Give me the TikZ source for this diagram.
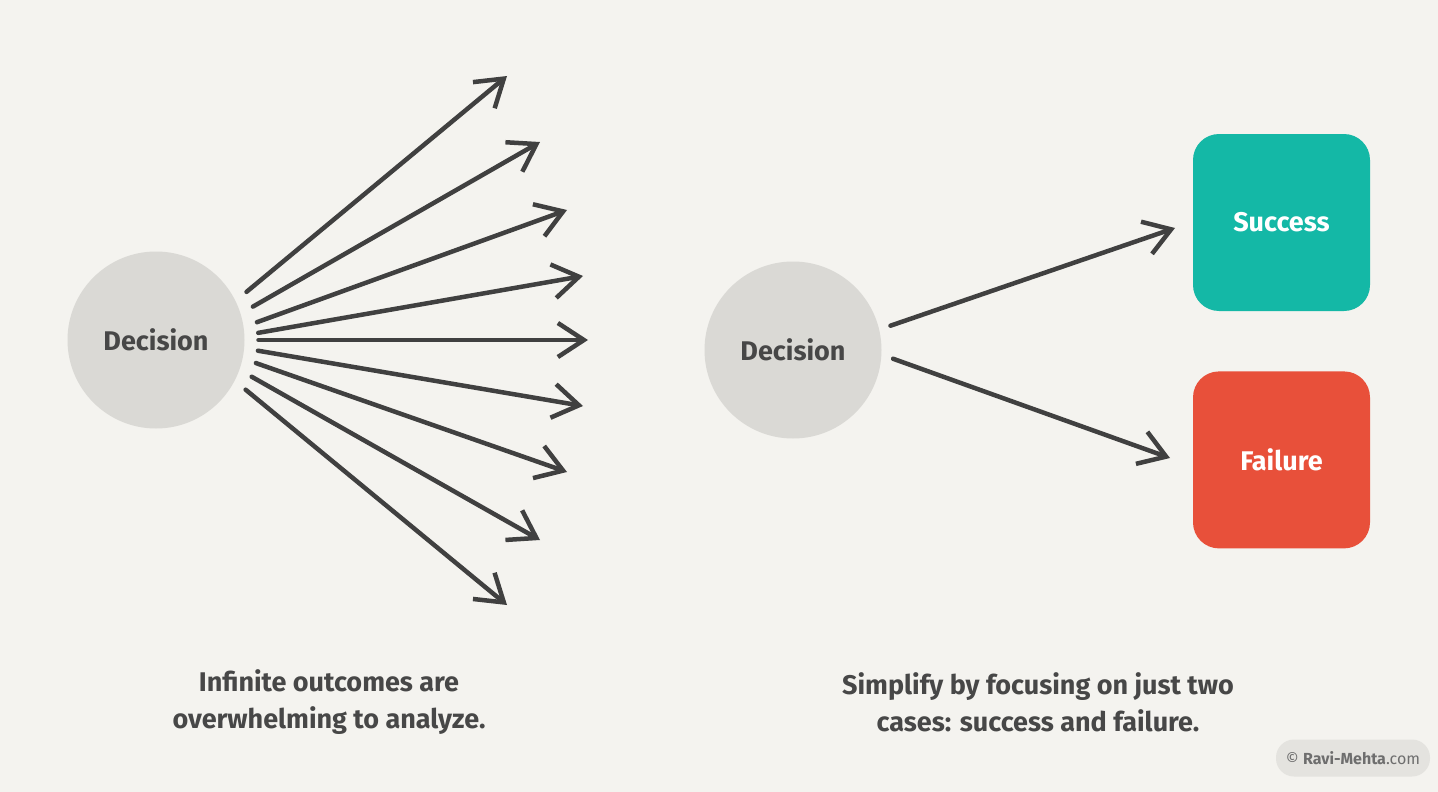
\documentclass[tikz,border=0pt]{standalone}
\usepackage{fontspec}
\setmainfont{Fira Sans}
\usepackage{tikz}
\usetikzlibrary{arrows.meta,positioning}
\definecolor{bgcream}{HTML}{F4F3EF}
\definecolor{decgray}{HTML}{DAD9D5}
\definecolor{inkgray}{HTML}{474747}
\definecolor{arrowink}{HTML}{404040}
\definecolor{succteal}{HTML}{14B8A6}
\definecolor{failred}{HTML}{E8503A}
\definecolor{markgray}{HTML}{E4E3DF}
\definecolor{markink}{HTML}{6E6E6E}

\begin{document}
\begin{tikzpicture}[x=1pt,y=-1pt, every node/.style={font=\bfseries,align=center},
  decision/.style={circle,fill=decgray,minimum size=177pt,inner sep=0pt,outer sep=14pt,text=inkgray,font=\fontsize{27}{32}\selectfont\bfseries},
  outcomebox/.style={rounded corners=26pt,minimum width=177pt,minimum height=177pt,text=white,font=\fontsize{27}{32}\selectfont\bfseries},
  outcome/.style={-{Straight Barb[length=26pt,width=34pt]},line width=4.5pt,arrowink,line cap=round,line join=round},
  caption/.style={text=inkgray,font=\fontsize{27}{37}\selectfont\bfseries}]
  \fill[bgcream] (0,0) rectangle (1438,792);
  \useasboundingbox (0,0) rectangle (1438,792);

  % left: many outcomes
  \node[decision] (dec1) at (156,340) {Decision};
  \foreach \ang/\tx/\ty [count=\i] in {28/507/76, 19/540/142, 10/567/210, 4/583/276, 0/588/340,
      -6/583/406, -13/567/472, -21/540/540, -29/507/605} {
    \coordinate (tip\i) at (\tx,\ty);
    \draw[outcome] (dec1.\ang) -- (tip\i);
  }

  % right: two outcomes
  \node[decision,outer sep=12pt] (dec2) at (793,350) {Decision};
  \node[outcomebox,fill=succteal] (succ) at (1281.5,222.5) {Success};
  \node[outcomebox,fill=failred,below=60pt of succ] (fail) {Failure};
  \coordinate (succtip) at (1175,228);
  \coordinate (failtip) at (1170,458);
  \draw[outcome] (dec2.14) -- (succtip);
  \draw[outcome] (dec2.-5) -- (failtip);

  \node[caption] (cap1) at (329,702) {Infinite outcomes are\\overwhelming to analyze.};
  \node[caption] (cap2) at (1038,702) {Simplify by focusing on just two\\cases: success and failure.};

  \node[fill=markgray,rounded corners=18pt,minimum width=154pt,minimum height=37pt,text=markink,
    font=\fontsize{16}{18}\selectfont\mdseries] (credit) at (1353,758) {\textcopyright{} \textbf{Ravi-Mehta}.com};
\end{tikzpicture}
\end{document}
